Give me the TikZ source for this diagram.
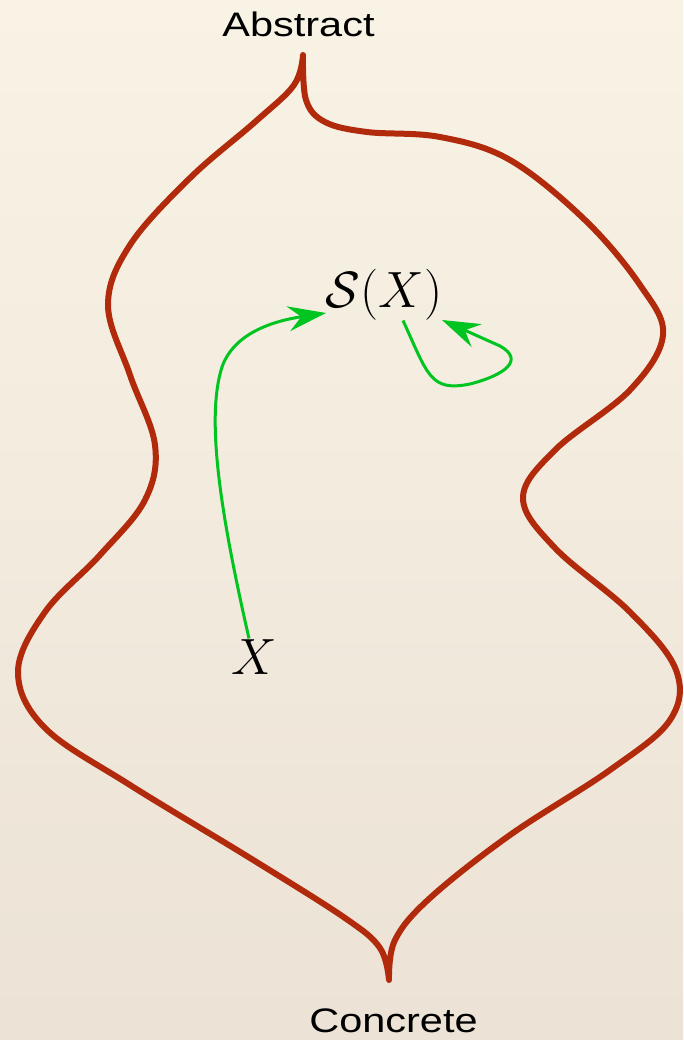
\RequirePackage{fix-cm}
\documentclass[tikz,border=0pt]{standalone}
\usepackage{amsmath,amssymb}
\usepackage{graphicx}
\usepackage{fontspec}
\usepackage{tikz}
\usepackage{xcolor}
\usetikzlibrary{arrows.meta}
\newfontfamily\labelfont{Liberation Sans}
\definecolor{paperTop}{RGB}{248,243,229}
\definecolor{paperBot}{RGB}{236,226,214}
\definecolor{rimRed}{RGB}{178,42,12}
\definecolor{pathGreen}{RGB}{0,196,32}

\begin{document}
\begin{tikzpicture}[x=1pt,y=-1pt,
    rim/.style={line width=6pt,rimRed,line join=round,line cap=round},
    move/.style={line width=3pt,pathGreen,-{Stealth[length=38pt,width=25pt,inset=13pt]}},
    lvl/.style={font=\labelfont\fontsize{34}{40}\selectfont,anchor=base,inner sep=0pt},
    obj/.style={font=\fontsize{51}{60}\selectfont,inner sep=0pt}]
    \shade[top color=paperTop,bottom color=paperBot] (0,0) rectangle (683,1040);
    \useasboundingbox (0,0) rectangle (683,1040);

    \draw[rim] plot[smooth,tension=0.6] coordinates {
        (303,55) (294,85) (255,122) (190,178) (130,245) (108,305) (130,375)
        (155,445) (145,500) (100,555) (45,612) (18,672) (45,728) (130,785)
        (250,858) (345,918) (380,948) (389,980)}
      -- plot[smooth,tension=0.6] coordinates {
        (389,980) (395,940) (430,898) (510,835) (610,770) (670,720) (676,670)
        (630,612) (555,548) (523,498) (555,450) (630,390) (663,335) (640,285)
        (585,220) (510,160) (440,137) (367,132) (325,122) (306,100) (303,55)};

    \node[lvl] (abstract) at (298.5,37) {\scalebox{1.22}[1]{Abstract}};
    \node[lvl] (concrete) at (393.5,1032) {\scalebox{1.22}[1]{Concrete}};
    \node[obj] (SX) at (384,294.5) {$\mathcal{S}(X)$};
    \node[obj] (X) at (254,657.5) {$X$};

    \draw[move] ([shift={(-5,-19)}]X.center) .. controls (222,520) and (205,420) .. (222,367)
        .. controls (235,330) and (280,320) .. ([shift={(-58,18.5)}]SX.center);
    \draw[move] ([shift={(19,26)}]SX.center) .. controls (428,375) and (430,392) .. (470,384)
        .. controls (505,375) and (525,360) .. (500,346) -- ([shift={(58,25.5)}]SX.center);
\end{tikzpicture}
\end{document}
